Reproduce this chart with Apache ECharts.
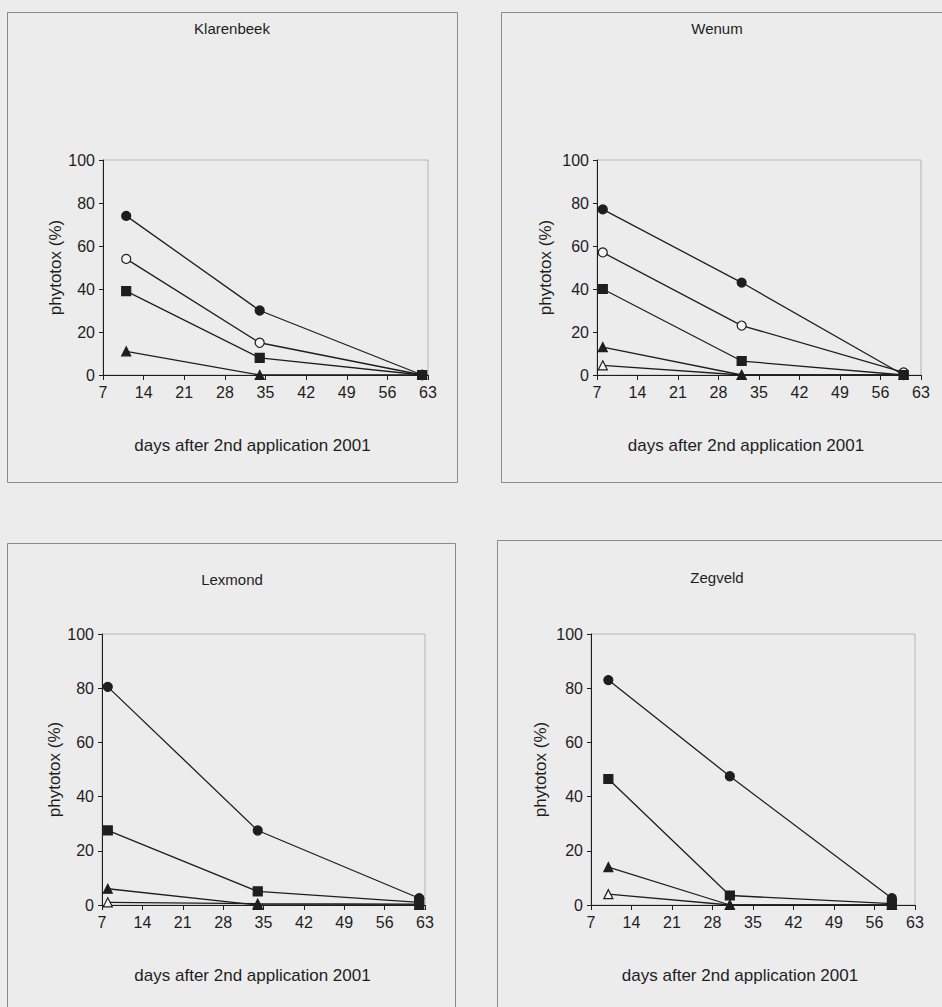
<!DOCTYPE html>
<html>
<head>
<meta charset="utf-8">
<script src="https://cdn.jsdelivr.net/npm/echarts@6/dist/echarts.min.js"></script>
<style>
html,body{margin:0;padding:0;background:#ececec;}
#c{width:942px;height:1007px;}
</style>
</head>
<body>
<div id="c"></div>
<script>
// ---- data ----
const panelTitles = ['Klarenbeek', 'Wenum', 'Lexmond', 'Zegveld'];
const xTicks = [7, 14, 21, 28, 35, 42, 49, 56, 63];
const yTicks = [0, 20, 40, 60, 80, 100];

const klarenbeekDays = [11, 34, 62];
const klarenbeekFilledCircle = [74, 30, 0];
const klarenbeekOpenCircle = [54, 15, 0];
const klarenbeekSquare = [39, 8, 0];
const klarenbeekFilledTriangle = [11, 0, 0];

const wenumDays = [8, 32, 60];
const wenumFilledCircle = [77, 43, 0];
const wenumOpenCircle = [57, 23, 1.2];
const wenumSquare = [40, 6.5, 0];
const wenumFilledTriangle = [13, 0, 0];
const wenumOpenTriangle = [4.5, 0, 0];

const lexmondDays = [8, 34, 62];
const lexmondFilledCircle = [80.5, 27.5, 2.5];
const lexmondSquare = [27.5, 5, 1];
const lexmondFilledTriangle = [6, 0, 0];
const lexmondOpenTriangle = [1, 0.5, 0.3];

const zegveldDays = [10, 31, 59];
const zegveldFilledCircle = [83, 47.5, 2.5];
const zegveldSquare = [46.5, 3.5, 0.5];
const zegveldFilledTriangle = [14, 0, 0];
const zegveldOpenTriangle = [4, 0, 0];

// ---- styling / layout ----
const BG = '#ececec';
const INK = '#1e1e1e';
const FONT = 'Liberation Sans, Arial, sans-serif';

const markerStyles = {
  openTriangle: {symbol: 'triangle', size: 9, fill: '#f4f4f4'},
  filledTriangle: {symbol: 'triangle', size: 9, fill: INK},
  openCircle: {symbol: 'circle', size: 9, fill: '#f4f4f4'},
  filledCircle: {symbol: 'circle', size: 9, fill: INK},
  square: {symbol: 'rect', size: 9, fill: INK}
};
const drawOrder = ['openTriangle', 'filledTriangle', 'filledCircle', 'openCircle', 'square'];

const panels = [
  {days: klarenbeekDays, series: {filledCircle: klarenbeekFilledCircle, openCircle: klarenbeekOpenCircle, square: klarenbeekSquare, filledTriangle: klarenbeekFilledTriangle},
   grid: {left: 103, top: 160, width: 325, height: 215}, frame: {x: 7.5, y: 12.5, w: 450, h: 470}, titlePos: [232, 21], yNameX: 67, xNameShift: 13},
  {days: wenumDays, series: {filledCircle: wenumFilledCircle, openCircle: wenumOpenCircle, square: wenumSquare, filledTriangle: wenumFilledTriangle, openTriangle: wenumOpenTriangle},
   grid: {left: 597, top: 160, width: 324, height: 215}, frame: {x: 501.5, y: 12.5, w: 450, h: 470}, titlePos: [717, 21], yNameX: 545, xNameShift: 13},
  {days: lexmondDays, series: {filledCircle: lexmondFilledCircle, square: lexmondSquare, filledTriangle: lexmondFilledTriangle, openTriangle: lexmondOpenTriangle},
   grid: {left: 102, top: 634, width: 323, height: 271}, frame: {x: 7.5, y: 543.5, w: 448, h: 480}, titlePos: [232, 572], yNameX: 67, xNameShift: 11},
  {days: zegveldDays, series: {filledCircle: zegveldFilledCircle, square: zegveldSquare, filledTriangle: zegveldFilledTriangle, openTriangle: zegveldOpenTriangle},
   grid: {left: 591, top: 634, width: 324, height: 271}, frame: {x: 497.5, y: 540.5, w: 460, h: 480}, titlePos: [717, 570], yNameX: 540, xNameShift: 13}
];

const grids = [], xAxes = [], yAxes = [], series = [], graphics = [];

panels.forEach((p, i) => {
  grids.push(Object.assign({show: true, borderColor: '#b4b4b4', borderWidth: 1, backgroundColor: 'transparent'}, p.grid));
  xAxes.push({
    type: 'value', gridIndex: i, min: xTicks[0], max: xTicks[xTicks.length - 1], interval: 7,
    name: 'days after 2nd application 2001', nameLocation: 'middle', nameGap: 62,
    nameTextStyle: {fontFamily: FONT, fontSize: 17, color: INK, padding: [0, p.xNameShift * 2, 0, 0]},
    axisLine: {show: true, onZero: false, lineStyle: {color: INK, width: 1}},
    axisTick: {show: true, length: 5, lineStyle: {color: INK}},
    axisLabel: {fontFamily: FONT, fontSize: 16, color: INK, margin: 9},
    splitLine: {show: false}
  });
  yAxes.push({
    type: 'value', gridIndex: i, min: yTicks[0], max: yTicks[yTicks.length - 1], interval: 20,
    name: 'phytotox (%)', nameLocation: 'middle', nameGap: p.grid.left - p.yNameX,
    nameRotate: 90,
    nameTextStyle: {fontFamily: FONT, fontSize: 17, color: INK, verticalAlign: 'middle'},
    axisLine: {show: true, lineStyle: {color: INK, width: 1}},
    axisTick: {show: true, length: 4, lineStyle: {color: INK}},
    axisLabel: {fontFamily: FONT, fontSize: 16, color: INK, margin: 8},
    splitLine: {show: false}
  });
  drawOrder.forEach((key, k) => {
    if (!p.series[key]) return;
    const m = markerStyles[key];
    const vals = p.series[key];
    series.push({
      type: 'line', xAxisIndex: i, yAxisIndex: i, name: key,
      data: p.days.map((d, j) => [d, vals[j]]),
      symbol: m.symbol, symbolSize: m.size, showSymbol: true,
      lineStyle: {color: INK, width: 1.3},
      itemStyle: {color: m.fill, borderColor: INK, borderWidth: 1.2},
      z: 2 + k,
      emphasis: {disabled: true}, animation: false, clip: false
    });
  });
  graphics.push({
    type: 'rect', shape: {x: p.frame.x, y: p.frame.y, width: p.frame.w, height: p.frame.h},
    style: {fill: 'none', stroke: '#8a8a8a', lineWidth: 1}, silent: true, z: -1
  });
  graphics.push({
    type: 'text', x: p.titlePos[0], y: p.titlePos[1],
    style: {text: panelTitles[i], fontFamily: FONT, fontSize: 15, fill: INK, textAlign: 'center', textVerticalAlign: 'top'},
    silent: true
  });
});

const chart = echarts.init(document.getElementById('c'), null, {renderer: 'svg'});
chart.setOption({
  backgroundColor: BG,
  animation: false,
  grid: grids,
  xAxis: xAxes,
  yAxis: yAxes,
  series: series,
  graphic: graphics
});
</script>
</body>
</html>
